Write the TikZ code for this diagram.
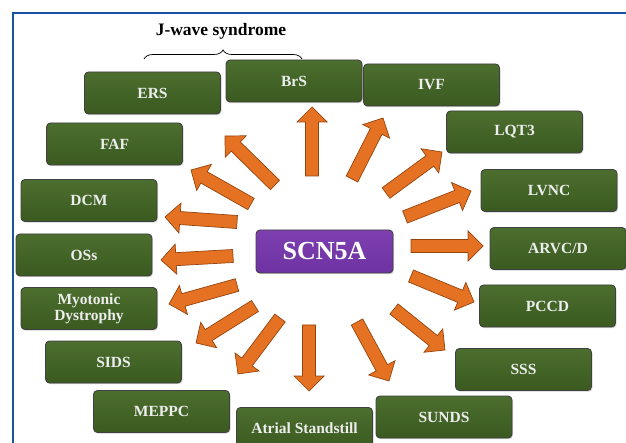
\documentclass[tikz,border=0pt]{standalone}
\usepackage{fontspec}
\setmainfont{Liberation Serif}
\usetikzlibrary{calc, decorations.pathreplacing, shadows}

\definecolor{boxgreen}{RGB}{58,90,32}
\definecolor{boxgreentop}{RGB}{76,110,46}
\definecolor{genepurple}{RGB}{110,50,162}
\definecolor{genepurpletop}{RGB}{126,64,176}
\definecolor{arroworange}{RGB}{228,114,34}
\definecolor{arrowedge}{RGB}{150,68,14}
\definecolor{frameblue}{RGB}{24,84,160}

\tikzset{
    disease/.style={draw=black!75, rectangle, rounded corners=4pt, line width=0.9pt, top color=boxgreentop, bottom color=boxgreen, minimum width=136pt, minimum height=42pt, inner sep=2pt, align=center, text=white!93!black, font=\bfseries\fontsize{15.5}{16}\selectfont, drop shadow={shadow xshift=1pt, shadow yshift=-1.2pt, opacity=0.35}},
    gene/.style={draw=black!75, rectangle, rounded corners=4pt, line width=0.9pt, top color=genepurpletop, bottom color=genepurple, minimum width=137pt, minimum height=43pt, inner sep=2pt, text=white, font=\bfseries\fontsize{26}{27}\selectfont, drop shadow={shadow xshift=1pt, shadow yshift=-1.2pt, opacity=0.35}},
    bigarrow/.style={fill=arroworange, draw=arrowedge, line width=0.7pt, line join=miter}
}

% block arrow from tail #1 to tip #2
\newcommand{\blockarrow}[2]{%
  \coordinate (hb) at ($(#2)!15pt!(#1)$);
  \draw[bigarrow] ($(#1)!6.5pt!-90:(#2)$) -- ($(hb)!6.5pt!90:(#1)$) -- ($(hb)!15pt!90:(#1)$) -- (#2) -- ($(hb)!15pt!-90:(#1)$) -- ($(hb)!6.5pt!-90:(#1)$) -- ($(#1)!6.5pt!90:(#2)$) -- cycle;
}

\begin{document}
\begin{tikzpicture}[x=1pt, y=-1pt]
    \clip (0,0) rectangle (626,443);

    % frame
    \draw[frameblue, line width=1.8pt] (13,470) -- (13,13) -- (650,13);

    % gene
    \node (scn) [gene] at (324.5,251.5) {SCN5A};

    % diseases, clockwise from top
    \node (brs) [disease] at (294,81) {BrS};
    \node (ivf) [disease] at (431.5,85) {IVF};
    \node (lqt) [disease] at (514.5,132) {LQT3};
    \node (lvnc) [disease] at (549,190.5) {LVNC};
    \node (arvc) [disease] at (558,248.5) {ARVC/D};
    \node (pccd) [disease] at (547.5,306) {PCCD};
    \node (sss) [disease] at (523.5,369.5) {SSS};
    \node (sunds) [disease] at (444,417) {SUNDS};
    \node (atrial) [disease] at (304.5,428.5) {Atrial Standstill};
    \node (meppc) [disease] at (161.5,411.5) {MEPPC};
    \node (sids) [disease] at (113.5,362) {SIDS};
    \node (myo) [disease] at (89,308.5) {Myotonic\\Dystrophy};
    \node (oss) [disease] at (84,255) {OSs};
    \node (dcm) [disease] at (89,200.5) {DCM};
    \node (faf) [disease] at (114.5,144) {FAF};
    \node (ers) [disease] at (152.5,93) {ERS};

    % J-wave group
    \node (jwave) at (221,31) {\bfseries\fontsize{17.5}{18}\selectfont J-wave syndrome};
    \draw[decorate, decoration={brace, amplitude=9pt}, line width=0.7pt] (144,59) -- (302,59);

    % arrow ends
    \coordinate (brs-t) at (312,176);   \coordinate (brs-h) at (312,107);
    \coordinate (ivf-t) at (352,179);   \coordinate (ivf-h) at (383,118);
    \coordinate (lqt-t) at (386,193);   \coordinate (lqt-h) at (442,152);
    \coordinate (lvnc-t) at (405,217);  \coordinate (lvnc-h) at (471,191);
    \coordinate (arvc-t) at (411,246);  \coordinate (arvc-h) at (483,246);
    \coordinate (pccd-t) at (411,276);  \coordinate (pccd-h) at (474,302);
    \coordinate (sss-t) at (394,309);   \coordinate (sss-h) at (445,350);
    \coordinate (sunds-t) at (357,322); \coordinate (sunds-h) at (389,381);
    \coordinate (atrial-t) at (309,325); \coordinate (atrial-h) at (309,391);
    \coordinate (meppc-t) at (280,318); \coordinate (meppc-h) at (238,374);
    \coordinate (sids-t) at (255,306);  \coordinate (sids-h) at (196,343);
    \coordinate (myo-t) at (237,285);   \coordinate (myo-h) at (169,304);
    \coordinate (oss-t) at (233,256);   \coordinate (oss-h) at (161,260);
    \coordinate (dcm-t) at (237,222);   \coordinate (dcm-h) at (165,217);
    \coordinate (faf-t) at (251,204);   \coordinate (faf-h) at (191,170);
    \coordinate (ers-t) at (275,185);   \coordinate (ers-h) at (225,136);

    % arrows
    \blockarrow{brs-t}{brs-h}
    \blockarrow{ivf-t}{ivf-h}
    \blockarrow{lqt-t}{lqt-h}
    \blockarrow{lvnc-t}{lvnc-h}
    \blockarrow{arvc-t}{arvc-h}
    \blockarrow{pccd-t}{pccd-h}
    \blockarrow{sss-t}{sss-h}
    \blockarrow{sunds-t}{sunds-h}
    \blockarrow{atrial-t}{atrial-h}
    \blockarrow{meppc-t}{meppc-h}
    \blockarrow{sids-t}{sids-h}
    \blockarrow{myo-t}{myo-h}
    \blockarrow{oss-t}{oss-h}
    \blockarrow{dcm-t}{dcm-h}
    \blockarrow{faf-t}{faf-h}
    \blockarrow{ers-t}{ers-h}

\end{tikzpicture}
\end{document}
